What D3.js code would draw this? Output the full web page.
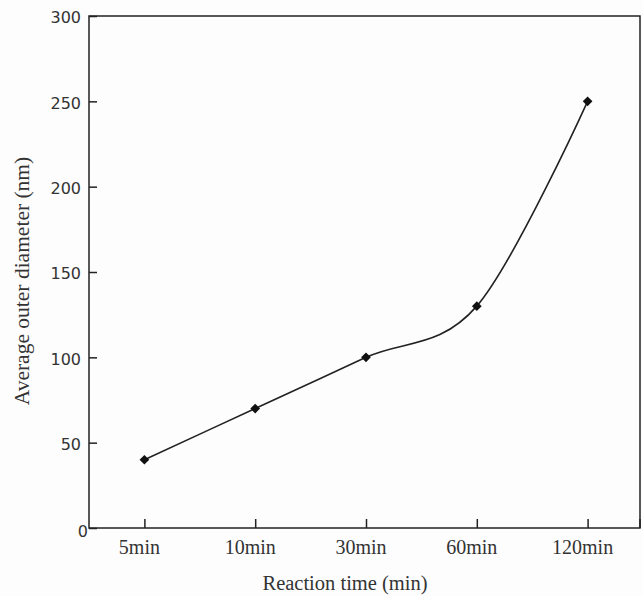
<!DOCTYPE html>
<html>
<head>
<meta charset="utf-8">
<script src="https://cdn.jsdelivr.net/npm/d3@7"></script>
<style>
  body { margin: 0; background: #fdfdfd; }
  svg { display: block; }
</style>
</head>
<body>
<div id="chart"></div>
<script>
// reaction time categories and measured diameters
const categories = ["5min", "10min", "30min", "60min", "120min"];
const diameters = [40, 70, 100, 130, 250];
const yTicks = [0, 50, 100, 150, 200, 250, 300];

const width = 643;
const height = 596;
const margin = { top: 16, right: 3, bottom: 68, left: 89 };

const svg = d3.select('#chart')
    .append('svg')
    .attr('width', width)
    .attr('height', height);

const plotLeft = margin.left;
const plotRight = width - margin.right;
const plotTop = margin.top;
const plotBottom = height - margin.bottom;

// categories are spread a little wider than the frame on the right
const x = d3.scalePoint()
    .domain(categories)
    .range([plotLeft, width])
    .padding(0.5);

const y = d3.scaleLinear()
    .domain([0, 300])
    .range([plotBottom, plotTop]);

// frame around the plot
svg.append('rect')
    .attr('x', plotLeft)
    .attr('y', plotTop)
    .attr('width', plotRight - plotLeft)
    .attr('height', plotBottom - plotTop)
    .attr('fill', 'none')
    .attr('stroke', '#222')
    .attr('stroke-width', 1.5);

// y axis, ticks pointing inward
const yAxis = svg.append('g')
    .attr('transform', `translate(${plotLeft},0)`)
    .call(d3.axisLeft(y).tickValues(yTicks).tickSize(-8).tickPadding(8));
yAxis.select('.domain').remove();
yAxis.selectAll('line').attr('stroke', '#222').attr('stroke-width', 1.5);
yAxis.selectAll('text')
    .attr('fill', '#333')
    .attr('dy', '0.42em')
    .style('font-family', 'DejaVu Sans, sans-serif')
    .style('font-size', '16px');
// the zero label sits lower, at the corner
yAxis.selectAll('.tick').filter(d => d === 0).select('text')
    .attr('x', -1).attr('dy', '0.55em');

// x axis, ticks pointing inward
const xAxis = svg.append('g')
    .attr('transform', `translate(0,${plotBottom})`)
    .call(d3.axisBottom(x).tickSize(-9).tickPadding(12));
xAxis.select('.domain').remove();
xAxis.selectAll('line').attr('stroke', '#222').attr('stroke-width', 1.5);
// labels sit slightly left of their ticks in the original
xAxis.selectAll('text')
    .attr('fill', '#333')
    .attr('dx', -5.5)
    .style('font-family', 'Liberation Serif, serif')
    .style('font-size', '20px');

// tick at the right corner of the bottom axis
svg.append('line')
    .attr('x1', plotRight).attr('x2', plotRight)
    .attr('y1', plotBottom).attr('y2', plotBottom - 9)
    .attr('stroke', '#222').attr('stroke-width', 1.5);

// axis titles
svg.append('text')
    .attr('x', 345)
    .attr('y', 590)
    .attr('text-anchor', 'middle')
    .attr('fill', '#333')
    .style('font-family', 'Liberation Serif, serif')
    .style('font-size', '20.5px')
    .text('Reaction time (min)');

svg.append('text')
    .attr('transform', 'translate(29,281) rotate(-90)')
    .attr('text-anchor', 'middle')
    .attr('fill', '#333')
    .style('font-family', 'Liberation Serif, serif')
    .style('font-size', '21.5px')
    .text('Average outer diameter (nm)');

// smoothed line through the measurements
const line = d3.line()
    .x((d, i) => x(categories[i]))
    .y(d => y(d))
    .curve(d3.curveCardinal);

svg.append('path')
    .datum(diameters)
    .attr('d', line)
    .attr('fill', 'none')
    .attr('stroke', '#222')
    .attr('stroke-width', 1.6);

// diamond markers
svg.selectAll('.marker')
    .data(diameters)
    .enter()
    .append('path')
    .attr('class', 'marker')
    .attr('transform', (d, i) => `translate(${x(categories[i])},${y(d)})`)
    .attr('d', d3.symbol().type(d3.symbolDiamond2).size(60))
    .attr('fill', '#111');
</script>
</body>
</html>
